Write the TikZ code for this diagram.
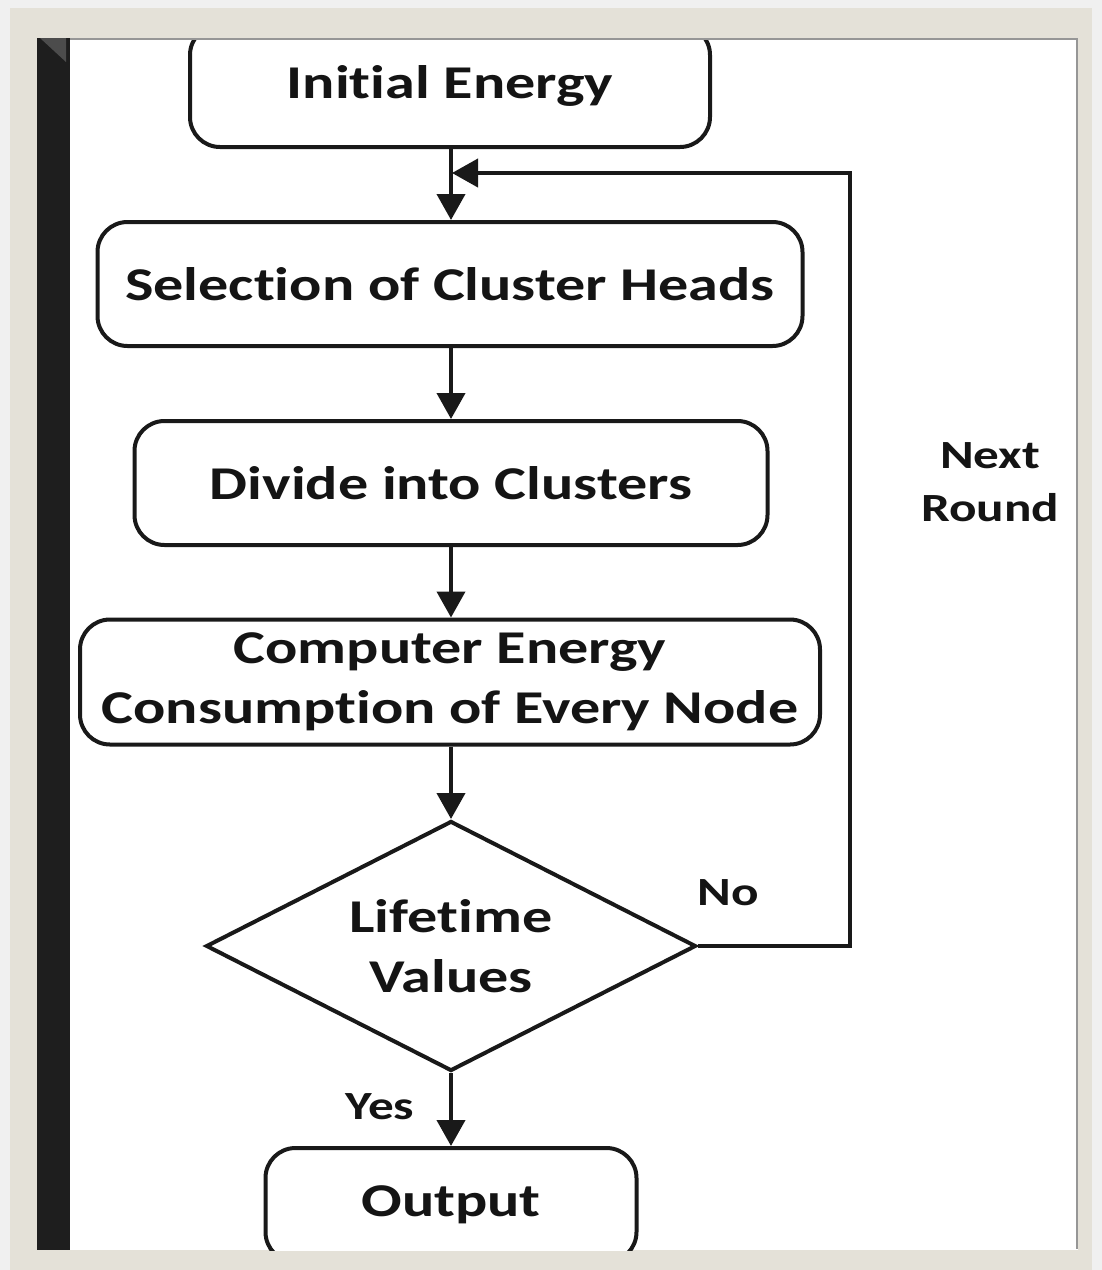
\documentclass[tikz,border=0pt]{standalone}
\usepackage{fontspec}
\setmainfont{Carlito}[FakeStretch=1.28, Ligatures=NoCommon]
\usetikzlibrary{arrows.meta,shapes.geometric}
\definecolor{frameouter}{RGB}{240,240,240}
\definecolor{framebeige}{RGB}{228,225,216}
\definecolor{barblack}{RGB}{30,30,30}
\definecolor{edgegray}{RGB}{150,150,150}
\tikzset{
  every node/.style={font=\bfseries\fontsize{47}{60}\selectfont, text=black!92},
  procbox/.style={draw=black!90, line width=4pt, rounded corners=30pt, fill=white,
    align=center, inner sep=0pt},
  decbox/.style={draw=black!90, line width=4pt, diamond, shape aspect=1.96, fill=white, align=center,
    inner sep=0pt, minimum width=490pt, minimum height=250pt},
  flow/.style={draw=black!90, line width=4pt, -{Triangle[width=28pt,length=26pt]}},
  lbl/.style={font=\bfseries\fontsize{40}{53}\selectfont, align=center, inner sep=0pt},
}
\begin{document}
\begin{tikzpicture}[x=1pt,y=-1pt]
\useasboundingbox (0,0) rectangle (1102,1270);
% frame
\fill[frameouter] (0,0) rectangle (1102,1270);
\fill[framebeige] (10,8) rectangle (1092,1270);
\fill[white] (37,38) rectangle (1078,1250);
\draw[edgegray, line width=2pt] (70,39) -- (1077,39) -- (1077,1249);
\fill[barblack] (37,38) rectangle (70,1250);
\fill[black!70] (40,38) -- (66,38) -- (66,62) -- cycle;
\begin{scope}
\clip (70,40) rectangle (1076,1250);
\node[procbox, minimum width=520pt, minimum height=122pt] (init) at (450,86) {Initial Energy};
\node[procbox, minimum width=705pt, minimum height=124pt] (sel) at (450,284) {Selection of Cluster Heads};
\node[procbox, minimum width=633pt, minimum height=124pt] (div) at (451,483) {Divide into Clusters};
\node[procbox, minimum width=740pt, minimum height=125pt] (comp) at (450,682) {Computer Energy\\Consumption of Every Node};
\node[decbox] (dec) at (451,946) {Lifetime\\Values};
\node[procbox, minimum width=371pt, minimum height=114pt] (out) at (451,1205) {Output};
\coordinate (loopA) at (850,946);
\coordinate (loopB) at (850,173);
\coordinate (join) at (451,173);
\draw[flow] (init.south -| join) -- (sel.north -| join);
\draw[flow] (sel.south -| join) -- (div.north -| join);
\draw[flow] (div.south -| join) -- (comp.north -| join);
\draw[flow] (comp.south -| join) -- (dec.north);
\draw[flow] (dec.south) -- (out.north -| join);
\draw[flow, shorten >=-1pt] (dec.east) -- (loopA) -- (loopB) -- ([xshift=2pt]join);
\node[lbl] (no) at (728,893) {No};
\node[lbl] (yes) at (380,1107) {Yes};
\node[lbl] (next) at (990,482) {Next\\Round};
\end{scope}
\end{tikzpicture}
\end{document}
